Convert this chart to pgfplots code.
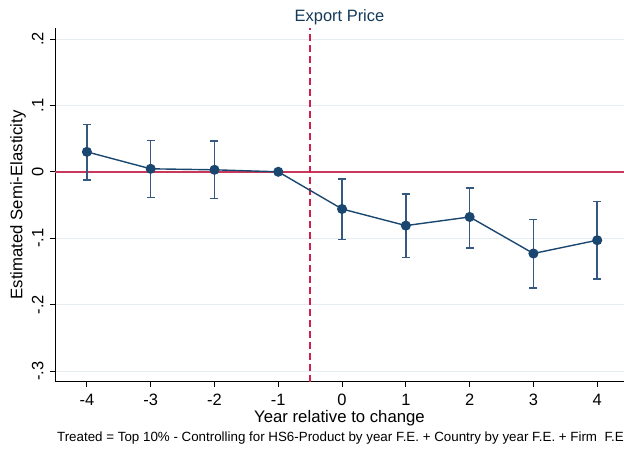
\documentclass[border=0pt]{standalone}
\usepackage{pgfplots}
\pgfplotsset{compat=1.18}
\usepackage{pgfplotstable}
\usepackage{fontspec}
\setmainfont{Liberation Sans}
\definecolor{stnavy}{HTML}{1A476F}
\definecolor{stbar}{HTML}{34587F}
\definecolor{stred}{HTML}{C8385A}
\definecolor{stdash}{HTML}{D2204E}
\definecolor{stgrid}{HTML}{E6EDF1}
\pgfplotstableread{
x y ep em
-4 0.030 0.041 0.042
-3 0.0045 0.0425 0.0431
-2 0.003 0.043 0.043
-1 0 0 0
0 -0.056 0.045 0.046
1 -0.081 0.048 0.048
2 -0.068 0.044 0.047
3 -0.123 0.051 0.052
4 -0.103 0.058 0.058
}\est
\pgfplotstableread{
x y
-4.5 0
4.42 0
}\zeroline
\pgfplotstableread{
x y
-0.5 -0.316
-0.5 0.2165
}\eventline
\begin{document}
\begin{tikzpicture}[x=1bp,y=1bp]
\useasboundingbox (0,0) rectangle (624,449);
\begin{axis}[
  at={(55bp,67.3bp)}, anchor=south west,
  scale only axis, width=569bp, height=353.7bp,
  xmin=-4.5, xmax=4.42, ymin=-0.316, ymax=0.2165,
  axis x line*=bottom, axis y line*=left,
  axis line style={black, line width=0.9bp, -},
  xtick={-4,...,4},
  ytick={-0.3,-0.2,-0.1,0,0.1,0.2},
  yticklabels={-.3,-.2,-.1,0,.1,.2},
  /pgf/number format/assume math mode=true,
  tick style={black, line width=0.8bp},
  tick align=outside, major tick length=5bp,
  ticklabel style={font=\fontsize{16.5}{18}\selectfont},
  xticklabel style={yshift=-4bp},
  yticklabel style={rotate=90, anchor=south, yshift=3bp},
  ymajorgrids, grid style={stgrid, line width=0.8bp},
  xlabel={Year relative to change},
  xlabel style={font=\fontsize{16.8}{18}\selectfont, at={(axis description cs:0.5,0)}, anchor=base, yshift=-40.5bp},
  ylabel={Estimated Semi-Elasticity},
  ylabel style={font=\fontsize{16.8}{18}\selectfont, at={(axis description cs:-0.065,0.5)}, rotate=0, anchor=center},
  title={Export Price},
  title style={font=\fontsize{16.5}{18}\selectfont, text=stnavy!80!black, at={(axis description cs:0.5,1)}, anchor=center, yshift=5bp},
  clip=false,
]
\addplot[draw=stred, line width=1.6bp, mark=none] table[x=x, y=y] {\zeroline};
\addplot[draw=stdash, line width=1.6bp, mark=none, dash pattern=on 7bp off 4bp] table[x=x, y=y] {\eventline};
\addplot[draw=none, mark=none, forget plot,
  error bars/.cd, y dir=both, y explicit,
  error bar style={stbar, line width=1.6bp},
  error mark options={stbar, line width=1.6bp, mark size=4bp, rotate=90}]
  table[x=x, y=y, y error plus=ep, y error minus=em] {\est};
\addplot[stnavy, line width=1.4bp, mark=*, mark size=4.3bp, mark options={fill=stnavy, draw=stnavy}]
  table[x=x, y=y] {\est};
\end{axis}
\node[anchor=base, font=\fontsize{13.4}{15}\selectfont] at (340.5,7) {Treated = Top 10\% - Controlling for HS6-Product by year F.E. + Country by year F.E. + Firm\ \ F.E};
\end{tikzpicture}
\end{document}
